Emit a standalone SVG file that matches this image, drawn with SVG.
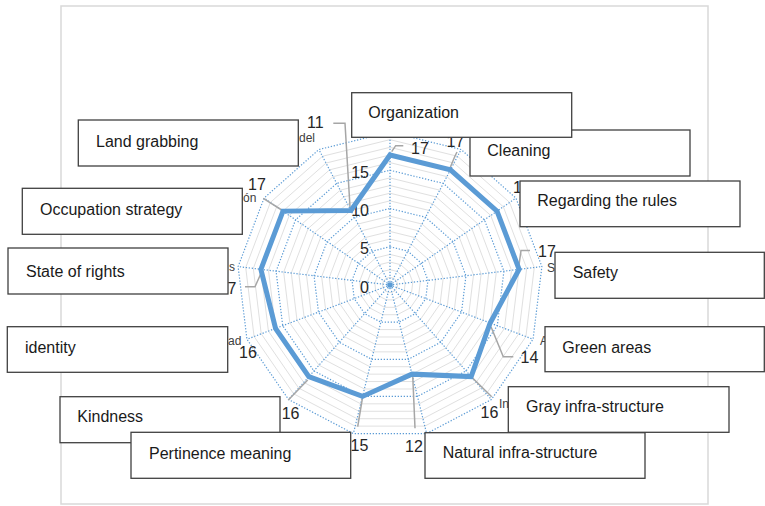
<svg xmlns="http://www.w3.org/2000/svg" xmlns:xlink="http://www.w3.org/1999/xlink" width="765" height="506" viewBox="0 0 765 506">
<style>
text{font-family:"Liberation Sans",Arial,sans-serif}
.minor{fill:none;stroke:#e0e0e0;stroke-width:1}
.major{fill:none;stroke:#5b9bd5;stroke-width:1.2;stroke-dasharray:1.3 1.7}
.spoke{stroke:#5b9bd5;stroke-width:1.2;stroke-dasharray:1.3 1.7}
.series{fill:none;stroke:#5b9bd5;stroke-width:5;stroke-linejoin:miter}
.lead{fill:none;stroke:#a6a6a6;stroke-width:1.5}
.num{font-size:16px;fill:#262626}
.tick{font-size:16px;fill:#262626;text-anchor:end}
.cat{font-size:12px;fill:#404040}
.box rect{fill:#fff;stroke:#404040;stroke-width:1.3}
.box text{font-size:16px;fill:#1a1a1a}
</style>
<defs>
<polygon id="ring" vector-effect="non-scaling-stroke" class="minor" points="0,-153 71.10,-135.48 125.92,-86.91 151.88,-18.44 143.06,54.25 101.46,114.52 36.62,148.55 -36.62,148.55 -101.46,114.52 -143.06,54.25 -151.88,-18.44 -125.92,-86.91 -71.10,-135.48"/>
</defs>
<rect x="61" y="6" width="647" height="498" fill="#fff" stroke="#d9d9d9" stroke-width="1.5"/>
<g id="grid" transform="translate(390,285)">
<use xlink:href="#ring" transform="scale(0.05)"/>
<use xlink:href="#ring" transform="scale(0.1)"/>
<use xlink:href="#ring" transform="scale(0.15)"/>
<use xlink:href="#ring" transform="scale(0.2)"/>
<use xlink:href="#ring" transform="scale(0.3)"/>
<use xlink:href="#ring" transform="scale(0.35)"/>
<use xlink:href="#ring" transform="scale(0.4)"/>
<use xlink:href="#ring" transform="scale(0.45)"/>
<use xlink:href="#ring" transform="scale(0.55)"/>
<use xlink:href="#ring" transform="scale(0.6)"/>
<use xlink:href="#ring" transform="scale(0.65)"/>
<use xlink:href="#ring" transform="scale(0.7)"/>
<use xlink:href="#ring" transform="scale(0.8)"/>
<use xlink:href="#ring" transform="scale(0.85)"/>
<use xlink:href="#ring" transform="scale(0.9)"/>
<use xlink:href="#ring" transform="scale(0.95)"/>
<polygon class="major" points="0,-38.25 17.78,-33.87 31.48,-21.73 37.97,-4.61 35.76,13.56 25.36,28.63 9.15,37.14 -9.15,37.14 -25.36,28.63 -35.76,13.56 -37.97,-4.61 -31.48,-21.73 -17.78,-33.87"/>
<polygon class="major" points="0,-76.5 35.55,-67.74 62.96,-43.46 75.94,-9.22 71.53,27.13 50.73,57.26 18.31,74.28 -18.31,74.28 -50.73,57.26 -71.53,27.13 -75.94,-9.22 -62.96,-43.46 -35.55,-67.74"/>
<polygon class="major" points="0,-114.75 53.33,-101.61 94.44,-65.19 113.91,-13.83 107.29,40.69 76.09,85.89 27.46,111.42 -27.46,111.42 -76.09,85.89 -107.29,40.69 -113.91,-13.83 -94.44,-65.19 -53.33,-101.61"/>
<polygon class="major" points="0,-153 71.10,-135.48 125.92,-86.91 151.88,-18.44 143.06,54.25 101.46,114.52 36.62,148.55 -36.62,148.55 -101.46,114.52 -143.06,54.25 -151.88,-18.44 -125.92,-86.91 -71.10,-135.48"/>
<line class="spoke" x1="0" y1="0" x2="0" y2="-153"/>
<line class="spoke" x1="0" y1="0" x2="71.10" y2="-135.48"/>
<line class="spoke" x1="0" y1="0" x2="125.92" y2="-86.91"/>
<line class="spoke" x1="0" y1="0" x2="151.88" y2="-18.44"/>
<line class="spoke" x1="0" y1="0" x2="143.06" y2="54.25"/>
<line class="spoke" x1="0" y1="0" x2="101.46" y2="114.52"/>
<line class="spoke" x1="0" y1="0" x2="36.62" y2="148.55"/>
<line class="spoke" x1="0" y1="0" x2="-36.62" y2="148.55"/>
<line class="spoke" x1="0" y1="0" x2="-101.46" y2="114.52"/>
<line class="spoke" x1="0" y1="0" x2="-143.06" y2="54.25"/>
<line class="spoke" x1="0" y1="0" x2="-151.88" y2="-18.44"/>
<line class="spoke" x1="0" y1="0" x2="-125.92" y2="-86.91"/>
<line class="spoke" x1="0" y1="0" x2="-71.10" y2="-135.48"/>
<circle cx="0" cy="0" r="2.8" fill="#5b9bd5"/>
</g>
<g id="axis-ticks">
<text class="tick" x="369" y="292.5">0</text>
<text class="tick" x="369" y="254">5</text>
<text class="tick" x="369" y="216">10</text>
<text class="tick" x="369" y="177.5">15</text>
</g>
<g id="category-fragments">
<text class="cat" x="299" y="142">del</text>
<text class="cat" x="243" y="202">ón</text>
<text class="cat" x="229" y="271">s</text>
<text class="cat" x="228" y="345">ad</text>
<text class="cat" x="547" y="272">S</text>
<text class="cat" x="540" y="345">A</text>
<text class="cat" x="499" y="408">In</text>
</g>
<g id="connectors">
<polyline class="lead" points="391.7,151.7 395.7,145.7 403.3,145.7"/>
<polyline class="lead" points="450,168 455,156 457,152"/>
<polyline class="lead" points="518.3,270 521,250.5 530,250.5"/>
<polyline class="lead" points="491,326.7 503.3,356.7 513.3,356.7"/>
<polyline class="lead" points="472.3,377.7 491.7,396.7"/>
<polyline class="lead" points="412.7,375 415,428.3"/>
<polyline class="lead" points="362.7,396.7 357.7,426.7"/>
<polyline class="lead" points="307.7,380 288.3,400"/>
<polyline class="lead" points="261.7,271.7 255,286.7 245,286.7"/>
<polyline class="lead" points="263.3,198.3 281.7,210"/>
<polyline class="lead" points="333.3,123.3 345,123.3 350,207"/>
</g>
<g id="series" transform="translate(390,285)">
<polygon class="series" points="0,-130.05 60.44,-115.15 107.03,-73.88 129.10,-15.68 100.14,37.98 81.17,91.62 21.97,89.13 -27.46,111.42 -81.17,91.62 -114.45,43.40 -129.10,-15.68 -107.03,-73.88 -39.11,-74.51"/>
</g>
<g id="data-labels">
<text class="num" x="411" y="154">17</text>
<text class="num" x="446.5" y="147">17</text>
<text class="num" x="513" y="193">17</text>
<text class="num" x="538" y="257">17</text>
<text class="num" x="520.5" y="363">14</text>
<text class="num" x="480.5" y="418">16</text>
<text class="num" x="405" y="452">12</text>
<text class="num" x="350.5" y="451">15</text>
<text class="num" x="281.7" y="419">16</text>
<text class="num" x="239" y="357.5">16</text>
<text class="num" x="218.5" y="294">17</text>
<text class="num" x="248" y="190">17</text>
<text class="num" x="307" y="128">11</text>
</g>
<g id="node-land-grabbing" class="box"><rect x="78.3" y="120" width="220" height="46"/><text x="96" y="146.5">Land grabbing</text></g>
<g id="node-occupation-strategy" class="box"><rect x="22.3" y="188.3" width="220" height="46"/><text x="40" y="214.5">Occupation strategy</text></g>
<g id="node-state-of-rights" class="box"><rect x="8" y="248" width="220" height="46"/><text x="26" y="276.5">State of rights</text></g>
<g id="node-identity" class="box"><rect x="7.3" y="326.7" width="220.4" height="45.6"/><text x="25" y="353">identity</text></g>
<g id="node-kindness" class="box"><rect x="60" y="396.7" width="220" height="46"/><text x="77.3" y="422.3">Kindness</text></g>
<g id="node-pertinence-meaning" class="box"><rect x="131" y="432.3" width="219.7" height="46"/><text x="149" y="459">Pertinence meaning</text></g>
<g id="node-gray-infra" class="box"><rect x="508.3" y="386.7" width="220.7" height="45.6"/><text x="526" y="412.3">Gray infra-structure</text></g>
<g id="node-natural-infra" class="box"><rect x="425" y="432.7" width="220" height="45.6"/><text x="442.7" y="458.3">Natural infra-structure</text></g>
<g id="node-green-areas" class="box"><rect x="545" y="326.7" width="219.3" height="45"/><text x="562.3" y="352.8">Green areas</text></g>
<g id="node-safety" class="box"><rect x="555" y="252.3" width="209.3" height="46"/><text x="572.7" y="278">Safety</text></g>
<g id="node-regarding-rules" class="box"><rect x="520" y="181" width="220" height="45.7"/><text x="537.3" y="206.3">Regarding the rules</text></g>
<g id="node-cleaning" class="box"><rect x="470" y="130" width="220" height="46"/><text x="487.3" y="156.3">Cleaning</text></g>
<g id="node-organization" class="box"><rect x="351.7" y="92.7" width="220" height="44.6"/><text x="368.3" y="118.3">Organization</text></g>
</svg>
